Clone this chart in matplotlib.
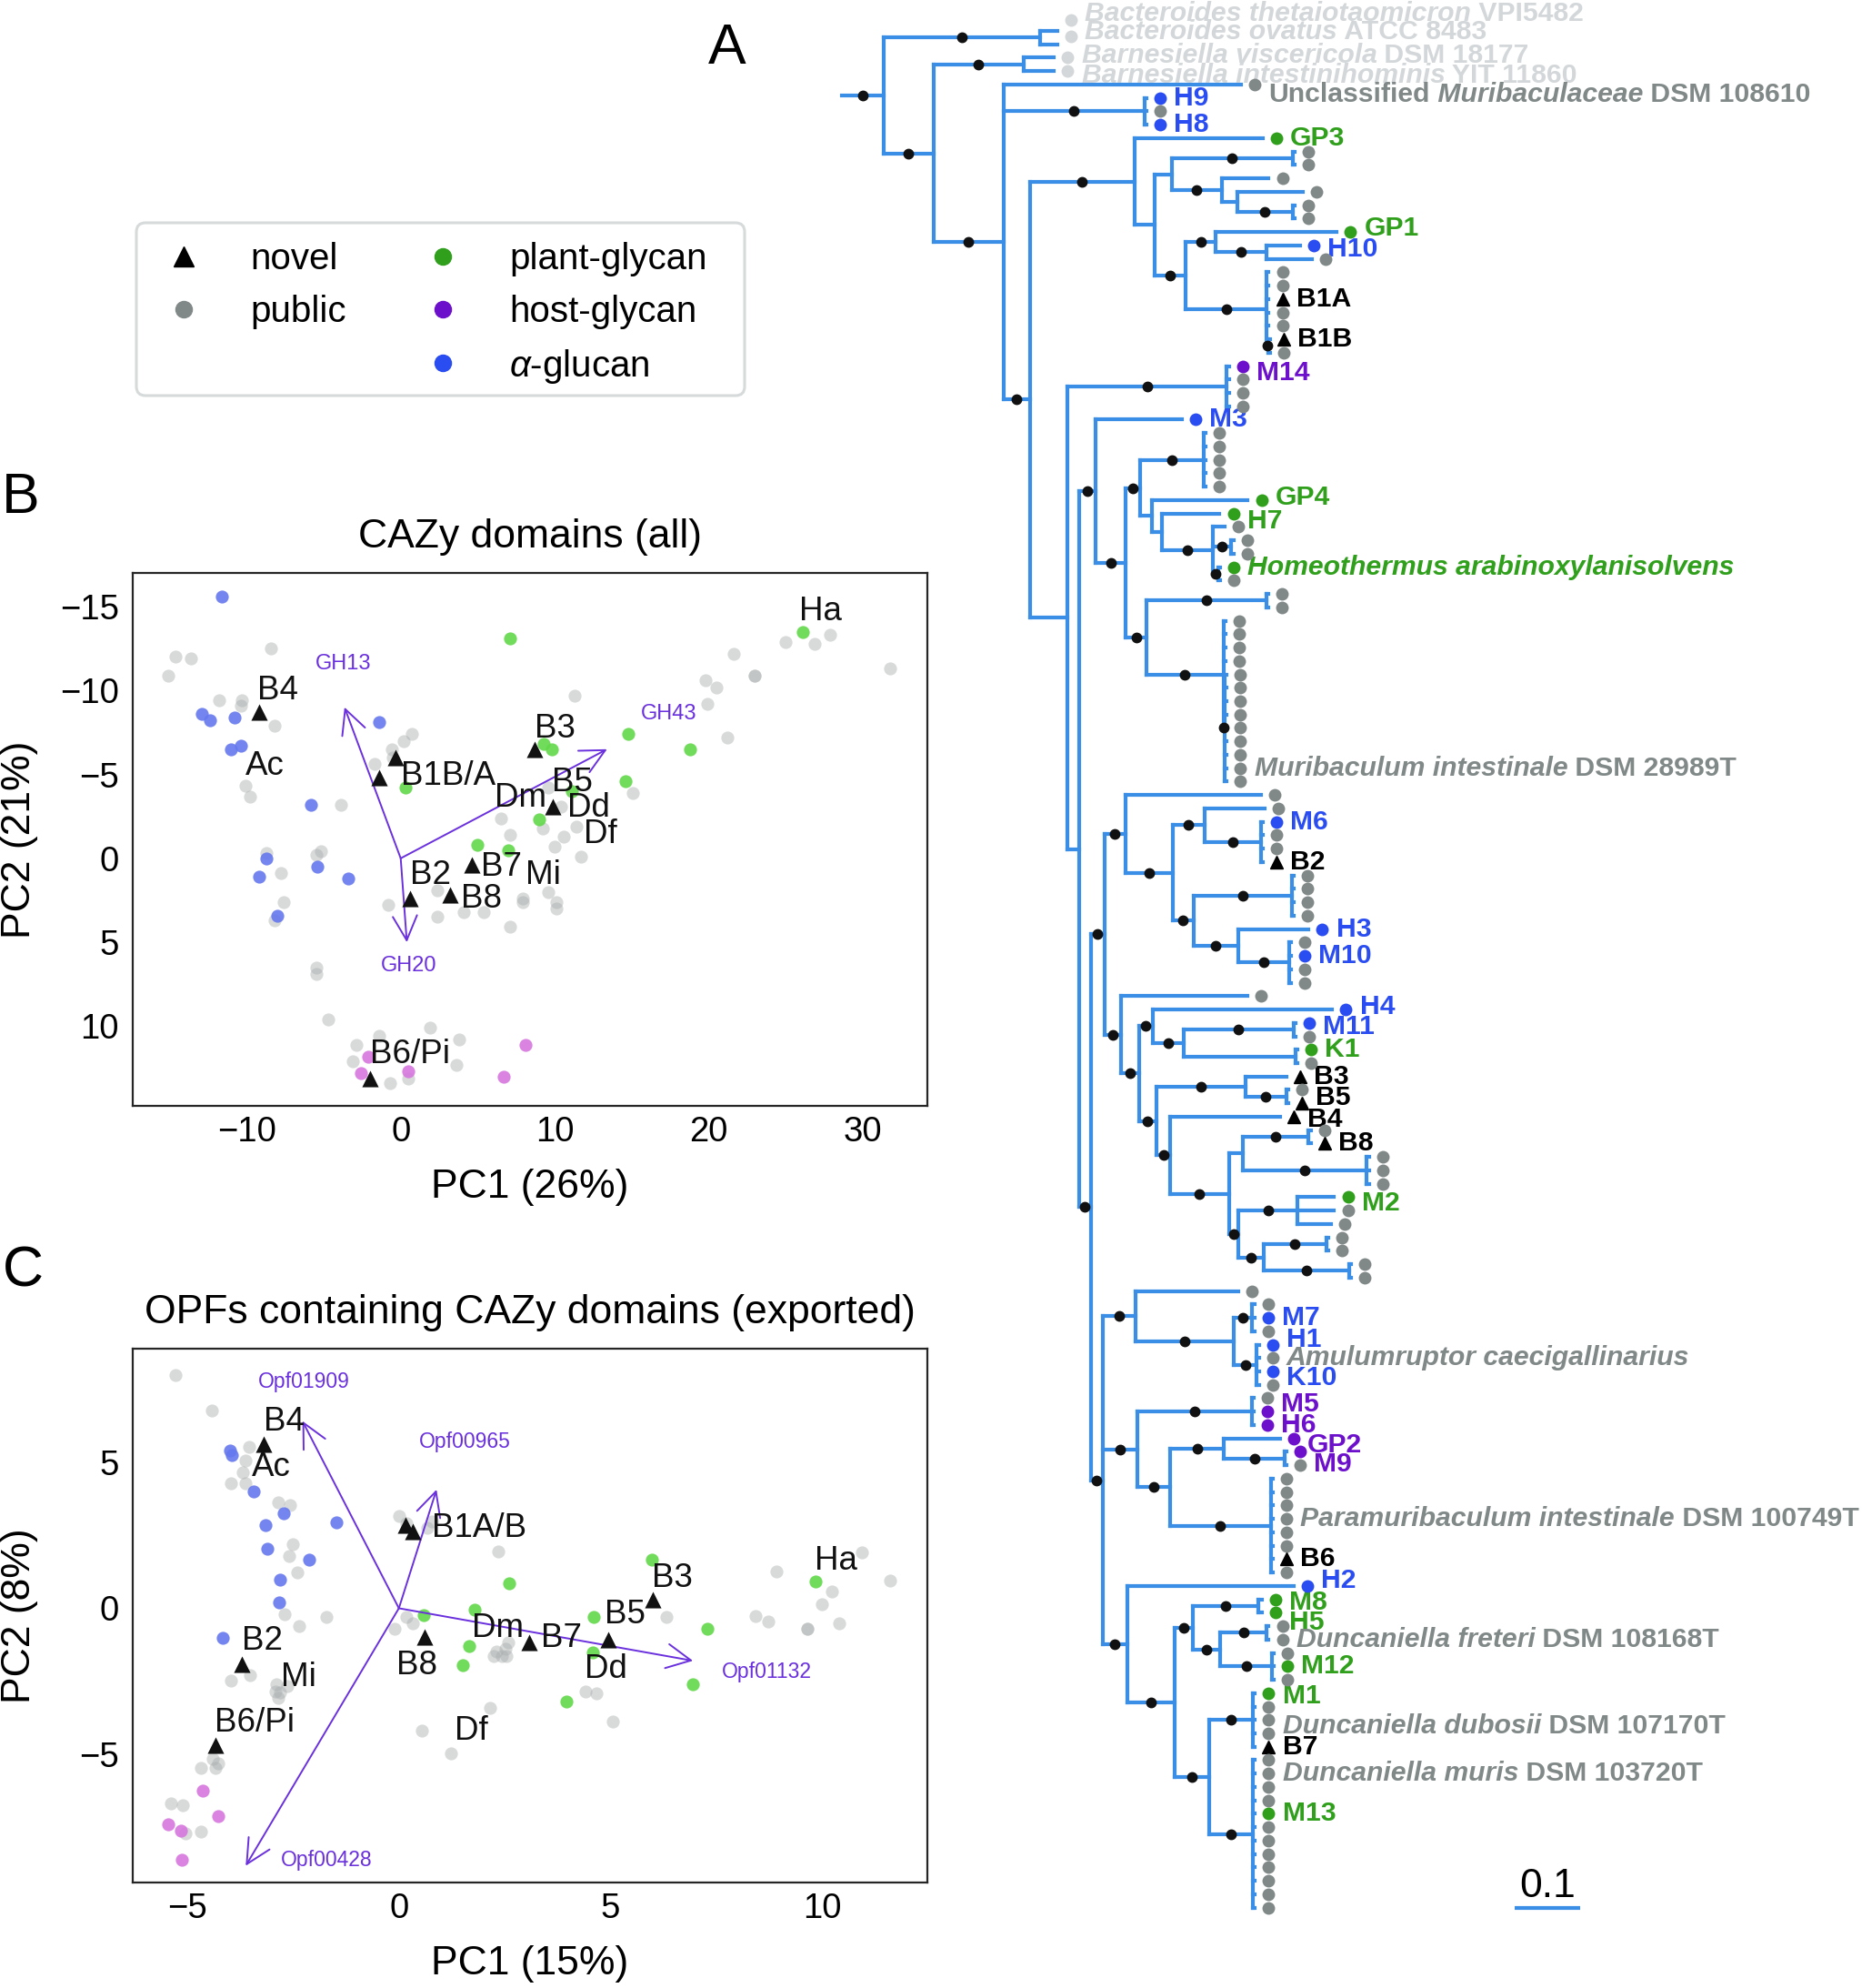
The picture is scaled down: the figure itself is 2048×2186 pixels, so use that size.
import matplotlib
matplotlib.use('Agg')
import matplotlib.pyplot as plt
from matplotlib.collections import LineCollection
from matplotlib.lines import Line2D
from matplotlib.patches import FancyBboxPatch
from matplotlib.transforms import IdentityTransform

plt.rcParams['font.family'] = 'Liberation Sans'
plt.rcParams['mathtext.fontset'] = 'custom'
plt.rcParams['mathtext.rm'] = 'Liberation Sans'
plt.rcParams['mathtext.it'] = 'Liberation Sans:italic'

# ---------------- tree (Newick, branch lengths in substitutions/site) ----------------
bacteroides = "(Btheta:0.026,Bovatus:0.026)*:0.239"
barnesiella = "(Bvisc:0.046,Bint:0.046)*:0.138"
h9_clade = "(H9:0.003,g:0.003,H8:0.003)*:0.215"
gp3_clade = ("(GP3:0.196,(((g:0.003,g:0.003)*:0.185,(g:0.072,(g:0.100,(g:0.003,g:0.003)*:0.085):0.024)*:0.076):0.026,"
             "((GP1:0.185,(H10:0.051,g:0.069)*:0.078)*:0.046,"
             "(g:0.003,g:0.003,B1A:0.003,g:0.003,g:0.003,(B1B:0.003,g:0.003)*:0.002)*:0.124)*:0.047):0.031)*:0.160")
m14_clade = "(M14:0.003,g:0.003,g:0.003,g:0.003)*:0.244"
m3_clade = ("(M3:0.132,"
            "(((g:0.003,g:0.003,g:0.003,g:0.003,g:0.003)*:0.097,"
            "(GP4:0.146,(H7:0.088,(g:0.018,(g:0.003,g:0.003)*:0.028,(Homeo:0.003,g:0.003)*:0.008)*:0.078):0.015):0.018)*:0.022,"
            "((g:0.003,g:0.003)*:0.183,"
            "(g:0.003,g:0.003,g:0.003,g:0.003,(g:0.003,g:0.003,g:0.003,g:0.003,g:0.003,g:0.003,g:0.003,Mint:0.003,g:0.003)*:0.002)*:0.118)*:0.031)*:0.047)*:0.025")
m6_clade = ("(g:0.207,((g:0.092,(M6:0.003,g:0.003,g:0.003,B2:0.003)*:0.086)*:0.049,((g:0.003,g:0.003,g:0.003,g:0.003)*:0.150,"
            "(H3:0.108,(g:0.003,M10:0.003,g:0.003,g:0.003)*:0.078)*:0.068)*:0.032)*:0.072)*:0.032")
h4_clade = ("(g:0.193,((H4:0.274,((M11:0.003,g:0.003)*:0.168,(K1:0.003,g:0.003):0.171)*:0.047)*:0.021,"
            "((B3:0.063,(g:0.003,B5:0.003)*:0.063)*:0.136,(B4:0.167,(((g:0.003,B8:0.003)*:0.101,(g:0.003,g:0.003,g:0.003)*:0.190):0.021,"
            "((M2:0.056,g:0.056,g:0.051)*:0.090,((g:0.003,g:0.003)*:0.096,(g:0.003,g:0.003)*:0.131)*:0.038)*:0.015)*:0.089)*:0.022)*:0.026)*:0.028)*:0.025")
m7_clade = "(g:0.158,((g:0.003,M7:0.003,g:0.003)*:0.029,(H1:0.003,Amul:0.003,K10:0.003,g:0.003)*:0.036)*:0.150)*:0.050"
m5_clade = ("((g:0.003,M5:0.003,H6:0.003)*:0.174,((GP2:0.085,(M9:0.003,g:0.003)*:0.092)*:0.083,"
            "(g:0.003,g:0.003,g:0.003,Para:0.003,g:0.003,g:0.003,B6:0.003,g:0.003)*:0.154)*:0.049)*:0.054")
h2_clade = ("(H2:0.254,(((M8:0.005,H5:0.005)*:0.100,((g:0.003,Dfre:0.003)*:0.071,(g:0.003,M12:0.003,g:0.003)*:0.079)*:0.042)*:0.028,"
            "((M1:0.003,g:0.003,Ddub:0.003,g:0.003,B7:0.003)*:0.067,"
            "(g:0.003,Dmur:0.003,g:0.003,g:0.003,M13:0.003,g:0.003,g:0.003,g:0.003,g:0.003,g:0.003,g:0.003,g:0.003)*:0.067)*:0.053)*:0.072)*:0.038")

lower = f"(({m6_clade},{h4_clade})*:0.021,({m7_clade},{m5_clade},{h2_clade})*:0.018)*:0.018"
newick = (f"({bacteroides},({barnesiella},(Unc:0.363,{h9_clade},({gp3_clade},"
          f"({m14_clade},({m3_clade},{lower}):0.018):0.057)*:0.040)*:0.107)*:0.076)*:0.064;")

plant_glycan = ['GP3', 'GP1', 'GP4', 'H7', 'Homeo', 'K1', 'M2', 'M8', 'H5', 'M12', 'M1', 'M13']
alpha_glucan = ['H9', 'H8', 'H10', 'M3', 'M6', 'H3', 'M10', 'H4', 'M11', 'M7', 'H1', 'K10', 'H2']
host_glycan = ['M14', 'M5', 'H6', 'GP2', 'M9']
novel = ['B1A', 'B1B', 'B2', 'B3', 'B4', 'B5', 'B6', 'B7', 'B8']
outgroup = ['Btheta', 'Bovatus', 'Bvisc', 'Bint']
species = {
    'Btheta': ('', 'Bacteroides thetaiotaomicron', ' VPI5482'),
    'Bovatus': ('', 'Bacteroides ovatus', ' ATCC 8483'),
    'Bvisc': ('', 'Barnesiella viscericola', ' DSM 18177'),
    'Bint': ('', 'Barnesiella intestinihominis', ' YIT 11860'),
    'Unc': ('Unclassified', ' Muribaculaceae', ' DSM 108610'),
    'Homeo': ('', 'Homeothermus arabinoxylanisolvens', ''),
    'Mint': ('', 'Muribaculum intestinale', ' DSM 28989T'),
    'Amul': ('', 'Amulumruptor caecigallinarius', ''),
    'Para': ('', 'Paramuribaculum intestinale', ' DSM 100749T'),
    'Dfre': ('', 'Duncaniella freteri', ' DSM 108168T'),
    'Ddub': ('', 'Duncaniella dubosii', ' DSM 107170T'),
    'Dmur': ('', 'Duncaniella muris', ' DSM 103720T'),
}
# crowded labels are spread a little, as in the original (offsets in tip rows)
dot_nudge = {'Btheta': -0.8, 'Bovatus': -0.6}
label_nudge = {'Btheta': -1.3, 'Bovatus': -0.9, 'Bvisc': -0.2, 'Bint': 0.3, 'Unc': 0.75, 'M14': 0.5,
               'GP1': -0.3, 'H10': 0.3, 'GP4': -0.2, 'H7': 0.55, 'H4': -0.2, 'M11': 0.3, 'B5': -0.4, 'B4': 0.2,
               'M2': 0.45, 'H1': -0.4, 'K10': 0.5, 'M5': -0.55, 'GP2': 0.5, 'M9': 0.95, 'H2': -0.4,
               'M8': 0.2, 'H5': 0.75, 'Ddub': 0.45, 'M1': 0.25}

# ---------------- PCA panel B : CAZy domains (all) ----------------
cazy_public = [(-15.1, -10.9), (-14.6, -12.0), (-13.6, -11.9), (-8.4, -12.5), (-11.8, -9.4), (-10.3, -9.4),
               (-10.4, -9.1), (-8.2, -7.9), (-10.1, -4.3), (-9.8, -3.7), (-3.9, -3.2), (-1.7, -5.6), (-0.6, -6.5),
               (0.2, -7.0), (0.7, -7.4), (-0.5, -6.0), (11.3, -9.7), (21.6, -12.2), (25.0, -12.9), (26.9, -12.8),
               (27.9, -13.3), (31.8, -11.3), (23.0, -10.9), (23.0, -10.9), (19.8, -10.6), (20.5, -10.2),
               (19.9, -9.2), (21.2, -7.2), (15.1, -3.9), (9.6, -4.2), (10.4, -3.1), (11.4, -1.9), (10.6, -1.3),
               (9.2, -1.8), (7.1, -1.4), (6.5, -2.4), (10.0, -0.7), (11.7, -0.1), (-8.7, -0.3), (-7.8, 0.9),
               (-7.6, 2.6), (-8.2, 3.7), (-5.2, -0.4), (-5.5, -0.2), (-0.8, 2.8), (2.4, 3.5), (4.1, 3.2),
               (5.4, 3.2), (7.1, 4.1), (7.9, 2.4), (7.9, 2.6), (9.6, 2.0), (10.1, 2.6), (10.1, 3.0), (2.4, 1.9),
               (-5.5, 6.5), (-5.5, 6.9), (-4.7, 9.6), (1.9, 10.1), (3.8, 10.8), (-2.9, 11.1), (-1.4, 10.6),
               (3.6, 12.3), (-0.7, 13.4), (0.5, 13.1), (-3.1, 12.1)]
cazy_alpha = [(-11.6, -15.6), (-12.9, -8.6), (-12.4, -8.2), (-10.8, -8.4), (-11.0, -6.5), (-10.4, -6.7),
              (-1.4, -8.1), (-5.8, -3.2), (-8.7, 0.0), (-9.2, 1.1), (-5.4, 0.5), (-3.4, 1.2), (-8.0, 3.4)]
cazy_plant = [(7.1, -13.1), (26.1, -13.5), (14.8, -7.4), (18.8, -6.5), (14.6, -4.6), (9.3, -6.8), (9.8, -6.5),
              (0.3, -4.2), (9.0, -2.3), (11.1, -4.0), (5.0, -0.8), (7.0, -0.5)]
cazy_host = [(8.1, 11.1), (-2.1, 11.8), (-2.6, 12.8), (0.5, 12.7), (6.7, 13.0)]
cazy_novel = [(-9.2, -8.7), (-0.35, -6.0), (-1.4, -4.8), (8.7, -6.5), (9.9, -3.1), (4.6, 0.4), (0.6, 2.4),
              (3.2, 2.2), (-2.0, 13.1)]
cazy_labels = [('B4', -9.3, -10.0), ('Ac', -10.1, -5.5), ('B1B/A', 0.0, -4.9), ('B3', 8.7, -7.7), ('Dm', 6.1, -3.6),
               ('B5', 9.8, -4.5), ('Dd', 10.8, -3.0), ('Df', 11.9, -1.4), ('B7', 5.2, 0.5), ('Mi', 8.1, 1.0),
               ('B2', 0.6, 1.0), ('B8', 3.9, 2.4), ('B6/Pi', -2.0, 11.7), ('Ha', 25.9, -14.7)]
cazy_loadings = [('GH13', -3.65, -9.0, -3.7, -11.6), ('GH43', 13.4, -6.5, 17.4, -8.6), ('GH20', 0.4, 5.0, 0.5, 6.4)]

# ---------------- PCA panel C : OPFs containing CAZy domains (exported) ----------------
opf_public = [(-5.27, 8.0), (-4.43, 6.77), (-3.55, 5.54), (-3.62, 5.06), (-3.7, 4.66), (-3.98, 4.27), (-3.62, 4.27),
              (-2.85, 3.63), (-2.58, 3.55), (-2.5, 2.19), (-2.6, 1.79), (-2.4, 1.23), (-1.72, -0.29), (-2.36, -0.61),
              (-2.7, -0.21), (-3.98, -2.48), (-3.51, -2.28), (-2.9, -2.6), (-2.92, -2.84), (-2.85, -3.08),
              (-2.64, -2.68), (-2.8, -2.9), (-4.68, -5.48), (-4.4, -5.16), (-4.33, -5.48), (-4.26, -5.32),
              (-5.39, -6.68), (-5.1, -6.76), (-5.04, -7.72), (-4.68, -7.67), (0.01, 3.15), (0.18, 2.9), (0.68, 2.75),
              (0.78, 2.96), (2.34, 1.95), (0.18, -0.29), (-0.1, -0.69), (0.32, -0.53), (2.3, -1.49), (2.51, -1.4),
              (2.44, -1.65), (2.58, -1.17), (2.23, -1.65), (2.55, -1.65), (2.16, -3.43), (0.55, -4.2), (1.24, -4.97),
              (4.41, -2.84), (4.67, -2.92), (5.05, -3.88), (6.32, -0.29), (8.43, -0.26), (8.72, -0.45), (8.93, 1.26),
              (9.66, -0.69), (9.66, -0.69), (10.24, 0.59), (9.99, 0.14), (10.41, -0.53), (10.94, 1.93), (11.61, 0.96)]
opf_alpha = [(-4.0, 5.4), (-3.95, 5.25), (-3.43, 4.0), (-2.72, 3.26), (-3.16, 2.86), (-1.47, 2.94), (-3.1, 2.03),
             (-2.13, 1.68), (-2.81, 0.99), (-2.83, 0.19), (-4.17, -1.0)]
opf_plant = [(5.97, 1.68), (2.61, 0.86), (9.84, 0.91), (0.59, -0.24), (1.78, -0.05), (4.6, -0.29), (7.28, -0.69),
             (1.66, -1.29), (1.52, -1.96), (4.58, -1.52), (6.95, -2.6), (3.95, -3.19)]
opf_host = [(-4.64, -6.25), (-4.26, -7.12), (-5.46, -7.4), (-5.15, -7.64), (-5.13, -8.61)]
opf_novel = [(-3.2, 5.62), (0.16, 2.86), (0.32, 2.64), (6.0, 0.3), (4.95, -1.09), (3.07, -1.17), (0.6, -0.97),
             (-3.72, -1.93), (-4.33, -4.68)]
opf_labels = [('B4', -3.2, 6.4), ('Ac', -3.48, 4.82), ('B1A/B', 0.78, 2.75), ('B3', 5.97, 1.02), ('B5', 4.87, -0.21),
              ('Dm', 1.73, -0.69), ('B7', 3.36, -1.04), ('Dd', 4.39, -2.09), ('B8', -0.05, -1.96), ('B2', -3.72, -1.13),
              ('Mi', -2.78, -2.36), ('B6/Pi', -4.36, -3.93), ('Df', 1.31, -4.2), ('Ha', 9.82, 1.61)]
opf_loadings = [('Opf01909', -2.28, 6.42, -2.25, 7.75), ('Opf00965', 0.89, 4.07, 1.55, 5.7),
                ('Opf01132', 6.95, -1.8, 8.7, -2.17), ('Opf00428', -3.62, -8.83, -1.7, -8.63)]

# ---------------- colours ----------------
BRANCH = '#3a8ee6'
GRAY = '#808888'
LIGHT = '#d3d7d9'
GREEN = '#2f9f1c'
BLUE = '#2a4df2'
PURPLE = '#6c10cc'
ARROW = '#6a30dd'


def parse_newick(s):
    s = ''.join(s.split())
    pos = 0

    def read():
        nonlocal pos
        kids = []
        if s[pos] == '(':
            pos += 1
            kids.append(read())
            while s[pos] == ',':
                pos += 1
                kids.append(read())
            pos += 1
        j = pos
        while s[pos] not in ':,();':
            pos += 1
        name = s[j:pos]
        blen = 0.0
        if s[pos] == ':':
            pos += 1
            j = pos
            while s[pos] not in ',();':
                pos += 1
            blen = float(s[j:pos])
        return {'name': name, 'len': blen, 'kids': kids}

    return read()


tree = parse_newick(newick)
tips, hsegs, vsegs, dots = [], [], [], []


def layout(node, px):
    node['x'] = px + node['len']
    if node['kids']:
        for k in node['kids']:
            layout(k, node['x'])
        node['y'] = (node['kids'][0]['y'] + node['kids'][-1]['y']) / 2
        vsegs.append([(node['x'], node['kids'][0]['y']), (node['x'], node['kids'][-1]['y'])])
    else:
        node['y'] = len(tips)
        tips.append(node)
    hsegs.append([(px, node['y']), (node['x'], node['y'])])
    if node['name'] == '*':
        dots.append(((px + node['x']) / 2, node['y']))


layout(tree, 0.0)

fig = plt.figure(figsize=(20.48, 21.86), dpi=100)

# ---------------- A: tree ----------------
axT = fig.add_axes([900 / 2048, 0, 1148 / 2048, 1])
axT.set_xlim(-26 / 720, 1122 / 720)
axT.set_ylim((2186 - 34) / 14.74, -34 / 14.74)
axT.axis('off')
axT.add_collection(LineCollection(hsegs + vsegs, colors=BRANCH, linewidths=3.0, capstyle='projecting', zorder=1))
axT.plot([d[0] for d in dots], [d[1] for d in dots], 'o', color='#111111', ms=7.5, zorder=3)

TIPOFF = 0.021
TREE_FS = 21.7


def rich_label(ax, x, y, parts, color, size):
    prev = None
    for txt, style in parts:
        if not txt:
            continue
        kw = dict(color=color, fontsize=size, fontweight='bold', fontstyle=style)
        if prev is None:
            prev = ax.text(x, y, txt, ha='left', va='center', **kw)
        else:
            prev = ax.annotate(txt, xy=(1, 0), xycoords=prev, ha='left', va='bottom', **kw)


for t in tips:
    name = t['name']
    xd = t['x'] + TIPOFF
    yd = t['y'] + dot_nudge.get(name, 0)
    if name in novel:
        axT.plot(xd, yd, '^', color='black', ms=10, zorder=4)
        col = 'black'
    elif name in plant_glycan:
        col = GREEN
    elif name in alpha_glucan:
        col = BLUE
    elif name in host_glycan:
        col = PURPLE
    elif name in outgroup:
        col = LIGHT
    else:
        col = GRAY
    if name not in novel:
        axT.plot(xd, yd, 'o', color=col, ms=10, mec='none', zorder=4)
    if name == 'g':
        continue
    xl = xd + 0.021
    yl = t['y'] + label_nudge.get(name, 0)
    if name in species:
        pre, ital, post = species[name]
        rich_label(axT, xl, yl, [(pre, 'normal'), (ital, 'italic'), (post, 'normal')], col, TREE_FS)
    else:
        axT.text(xl, yl, name, ha='left', va='center', color=col, fontsize=TREE_FS, fontweight='bold')

# scale bar
bar_x0 = 1.028
bar_y = len(tips) - 1
axT.plot([bar_x0, bar_x0 + 0.1], [bar_y, bar_y], color=BRANCH, lw=3.0, solid_capstyle='butt')
axT.text(bar_x0 + 0.05, bar_y - 0.2, '0.1', ha='center', va='bottom', fontsize=32)


# ---------------- B, C: PCA ----------------
def draw_pca(ax, public, alpha_g, plant, host, novel_pts, labels, loadings, load_fs):
    ax.scatter(*zip(*public), s=105, color='#a9adad', alpha=0.45, lw=0, zorder=1)
    ax.scatter(*zip(*alpha_g), s=105, color='#6678ee', alpha=0.9, lw=0, zorder=2)
    ax.scatter(*zip(*plant), s=105, color='#62d84a', alpha=0.9, lw=0, zorder=2)
    ax.scatter(*zip(*host), s=105, color='#d676de', alpha=0.9, lw=0, zorder=2)
    ax.scatter(*zip(*novel_pts), s=170, marker='^', color='#111111', lw=0, zorder=4)
    for lab, x, y, lx, ly in loadings:
        ax.annotate('', xy=(x, y), xytext=(0, 0),
                    arrowprops=dict(arrowstyle='->,head_length=0.6,head_width=0.3', color=ARROW, lw=1.4,
                                    mutation_scale=32, shrinkA=0, shrinkB=0), zorder=3)
        ax.text(lx, ly, lab, color=ARROW, fontsize=load_fs, ha='center', va='center', zorder=5)
    for lab, x, y in labels:
        ax.text(x, y, lab, fontsize=26.5, ha='left', va='center', color='#111111', zorder=5)
    for sp in ax.spines.values():
        sp.set_linewidth(1.6)
        sp.set_color('#262626')
    ax.tick_params(axis='x', length=0, labelsize=27.5, pad=8)
    ax.tick_params(axis='y', length=0, labelsize=27.5, pad=11)


axB = fig.add_axes([146 / 2048, 0.4437, 874 / 2048, 0.2681])
draw_pca(axB, cazy_public, cazy_alpha, cazy_plant, cazy_host, cazy_novel, cazy_labels, cazy_loadings, 17)
axB.set_xlim(-17.4, 34.2)
axB.set_ylim(14.75, -17.0)
axB.set_xticks([-10, 0, 10, 20, 30])
axB.set_yticks([-15, -10, -5, 0, 5, 10])
axB.set_title('CAZy domains (all)', fontsize=32, pad=20)
axB.set_xlabel('PC1 (26%)', fontsize=32)
axB.set_ylabel('PC2 (21%)', fontsize=32)
axB.xaxis.set_label_coords(0.5, -0.118)
axB.yaxis.set_label_coords(-0.119, 0.5)

axC = fig.add_axes([146 / 2048, 0.0531, 874 / 2048, 0.2685])
draw_pca(axC, opf_public, opf_alpha, opf_plant, opf_host, opf_novel, opf_labels, opf_loadings, 16.5)
axC.set_xlim(-6.29, 12.49)
axC.set_ylim(-9.4, 8.9)
axC.set_xticks([-5, 0, 5, 10])
axC.set_yticks([-5, 0, 5])
axC.set_title('OPFs containing CAZy domains (exported)', fontsize=32, pad=20)
axC.set_xlabel('PC1 (15%)', fontsize=32)
axC.set_ylabel('PC2 (8%)', fontsize=32)
axC.xaxis.set_label_coords(0.5, -0.118)
axC.yaxis.set_label_coords(-0.119, 0.5)

# ---------------- legend ----------------
frame = FancyBboxPatch((150, 2186 - 435), 669, 190, boxstyle='round,pad=0,rounding_size=10',
                       transform=IdentityTransform(), facecolor='white', edgecolor='#d6dada', lw=2.2)
fig.add_artist(frame)
handles = [
    Line2D([], [], marker='^', color='black', ms=16, ls='none', label='novel'),
    Line2D([], [], marker='o', color=GRAY, ms=13, ls='none', label='public'),
    Line2D([], [], ls='none', label=' '),
    Line2D([], [], marker='o', color=GREEN, ms=13, ls='none', label='plant-glycan'),
    Line2D([], [], marker='o', color=PURPLE, ms=13, ls='none', label='host-glycan'),
    Line2D([], [], marker='o', color=BLUE, ms=13, ls='none', label=r'$\alpha$-glucan'),
]
leg = fig.legend(handles=handles, loc='upper left', bbox_to_anchor=(150 / 2048, 1 - 250 / 2186), ncol=2,
                 fontsize=29, frameon=False, borderpad=0.4, labelspacing=0.49, handlelength=1.8,
                 handletextpad=0.92, columnspacing=1.72, borderaxespad=0)

# panel letters
fig.text(800 / 2048, 1 - 53 / 2186, 'A', fontsize=45, ha='center', va='center')
fig.text(23 / 2048, 1 - 548 / 2186, 'B', fontsize=45, ha='center', va='center')
fig.text(25 / 2048, 1 - 1398 / 2186, 'C', fontsize=45, ha='center', va='center')

fig.savefig('out.png', dpi=100)
